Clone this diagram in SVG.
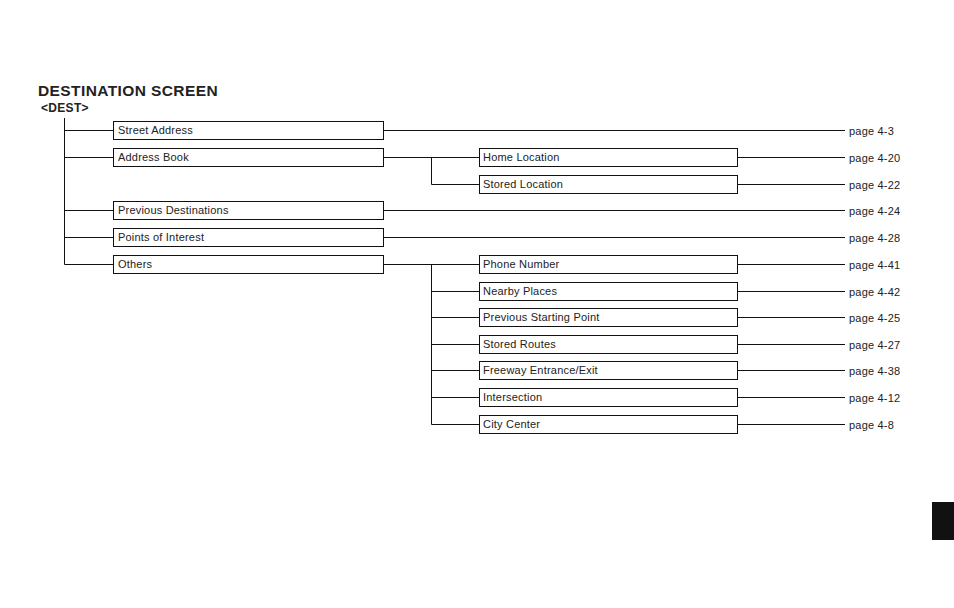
<svg xmlns="http://www.w3.org/2000/svg" width="954" height="608" viewBox="0 0 954 608">
<style>
text{font-family:"Liberation Sans",Arial,sans-serif;fill:#222}
.t{font-size:11px;letter-spacing:0.2px}
.b{fill:#fff;stroke:#111;stroke-width:1}
.l{stroke:#111;stroke-width:1;fill:none}
</style>
<rect width="954" height="608" fill="#fff"/>
<text x="38" y="96" font-size="15.5" font-weight="bold" letter-spacing="0.4" fill="#111">DESTINATION SCREEN</text>
<text x="41" y="112" font-size="12" font-weight="bold" letter-spacing="0.3" fill="#111">&lt;DEST&gt;</text>
<g id="connectors" class="l">
<path class="l" d="M64.5 118V264.5H113M64.5 130.5H113M64.5 157.5H113M64.5 210.5H113M64.5 237.5H113"/>
<path class="l" d="M383 130.5H845M383 157.5H479M431.5 157.5V184.5H479M383 210.5H845M383 237.5H845"/>
<path class="l" d="M383 264.5H479M431.5 264.5V424.5H479M431.5 291.5H479M431.5 317.5H479M431.5 344.5H479M431.5 370.5H479M431.5 397.5H479"/>
<path class="l" d="M737 157.5H845M737 184.5H845M737 264.5H845M737 291.5H845M737 317.5H845M737 344.5H845M737 370.5H845M737 397.5H845M737 424.5H845"/>
</g>
<g id="n1"><rect class="b" x="113.5" y="121.5" width="270" height="18"/><text class="t" x="118" y="134">Street Address</text></g>
<g id="n2"><rect class="b" x="113.5" y="148.5" width="270" height="18"/><text class="t" x="118" y="161">Address Book</text></g>
<g id="n3"><rect class="b" x="113.5" y="201.5" width="270" height="18"/><text class="t" x="118" y="214">Previous Destinations</text></g>
<g id="n4"><rect class="b" x="113.5" y="228.5" width="270" height="18"/><text class="t" x="118" y="241">Points of Interest</text></g>
<g id="n5"><rect class="b" x="113.5" y="255.5" width="270" height="18"/><text class="t" x="118" y="268">Others</text></g>
<g id="n6"><rect class="b" x="479.5" y="148.5" width="258" height="18"/><text class="t" x="483" y="161">Home Location</text></g>
<g id="n7"><rect class="b" x="479.5" y="175.5" width="258" height="18"/><text class="t" x="483" y="188">Stored Location</text></g>
<g id="n8"><rect class="b" x="479.5" y="255.5" width="258" height="18"/><text class="t" x="483" y="268">Phone Number</text></g>
<g id="n9"><rect class="b" x="479.5" y="282.5" width="258" height="18"/><text class="t" x="483" y="295">Nearby Places</text></g>
<g id="n10"><rect class="b" x="479.5" y="308.5" width="258" height="18"/><text class="t" x="483" y="321">Previous Starting Point</text></g>
<g id="n11"><rect class="b" x="479.5" y="335.5" width="258" height="18"/><text class="t" x="483" y="348">Stored Routes</text></g>
<g id="n12"><rect class="b" x="479.5" y="361.5" width="258" height="18"/><text class="t" x="483" y="374">Freeway Entrance/Exit</text></g>
<g id="n13"><rect class="b" x="479.5" y="388.5" width="258" height="18"/><text class="t" x="483" y="401">Intersection</text></g>
<g id="n14"><rect class="b" x="479.5" y="415.5" width="258" height="18"/><text class="t" x="483" y="428">City Center</text></g>
<g id="pages" class="t">
<text x="849" y="135">page 4-3</text>
<text x="849" y="162">page 4-20</text>
<text x="849" y="189">page 4-22</text>
<text x="849" y="215">page 4-24</text>
<text x="849" y="242">page 4-28</text>
<text x="849" y="269">page 4-41</text>
<text x="849" y="296">page 4-42</text>
<text x="849" y="322">page 4-25</text>
<text x="849" y="349">page 4-27</text>
<text x="849" y="375">page 4-38</text>
<text x="849" y="402">page 4-12</text>
<text x="849" y="429">page 4-8</text>
</g>
<rect x="932" y="502" width="22" height="38" fill="#111"/>
</svg>
